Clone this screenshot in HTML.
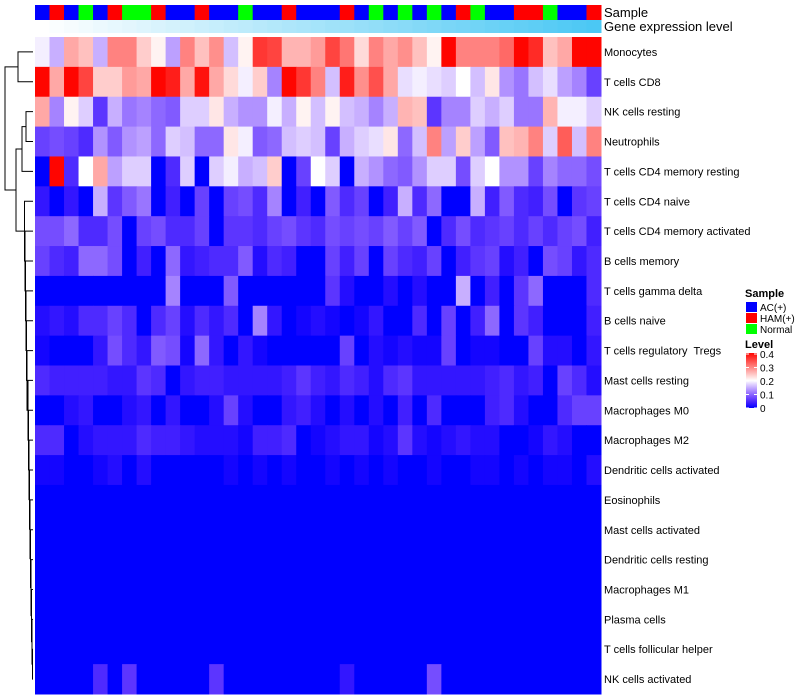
<!DOCTYPE html>
<html><head><meta charset="utf-8"><style>
body{margin:0;background:#fff;font-family:"Liberation Sans",sans-serif}
svg{display:block}
text{white-space:pre}
</style></head><body>
<svg id="chart" width="800" height="700" xmlns="http://www.w3.org/2000/svg"></svg>
<script>
const rowLabels=["Monocytes","T cells CD8","NK cells resting","Neutrophils","T cells CD4 memory resting","T cells CD4 naive","T cells CD4 memory activated","B cells memory","T cells gamma delta","B cells naive","T cells regulatory  Tregs","Mast cells resting","Macrophages M0","Macrophages M2","Dendritic cells activated","Eosinophils","Mast cells activated","Dendritic cells resting","Macrophages M1","Plasma cells","T cells follicular helper","NK cells activated"];
const sampleGroups=["B","R","B","G","B","R","G","G","R","B","B","R","B","B","G","B","B","R","B","B","B","R","B","G","B","G","B","G","B","R","G","B","B","R","R","G","B","B","R"];
const values=[
[0.19,0.15,0.27,0.25,0.15,0.3,0.3,0.24,0.21,0.14,0.3,0.25,0.29,0.16,0.21,0.36,0.35,0.26,0.26,0.28,0.35,0.31,0.23,0.3,0.27,0.29,0.25,0.21,0.4,0.3,0.3,0.3,0.32,0.4,0.37,0.25,0.27,0.4,0.4],
[0.4,0.27,0.4,0.35,0.24,0.24,0.28,0.27,0.4,0.38,0.27,0.39,0.27,0.23,0.19,0.24,0.12,0.4,0.36,0.3,0.16,0.38,0.29,0.34,0.27,0.18,0.19,0.18,0.17,0.2,0.16,0.22,0.13,0.11,0.16,0.18,0.14,0.12,0.07],
[0.27,0.12,0.21,0.17,0.06,0.15,0.11,0.12,0.1,0.09,0.17,0.17,0.22,0.15,0.13,0.13,0.19,0.15,0.21,0.16,0.21,0.16,0.15,0.12,0.15,0.26,0.25,0.06,0.12,0.12,0.17,0.15,0.17,0.11,0.11,0.26,0.19,0.19,0.17],
[0.07,0.08,0.07,0.05,0.13,0.09,0.13,0.14,0.1,0.17,0.16,0.1,0.1,0.22,0.19,0.09,0.1,0.16,0.17,0.16,0.07,0.15,0.17,0.18,0.22,0.1,0.16,0.3,0.14,0.24,0.14,0.09,0.25,0.26,0.3,0.17,0.33,0.16,0.3],
[0,0.4,0.05,0.2,0.27,0.14,0.17,0.17,0,0.05,0.17,0,0.17,0.19,0.15,0.16,0.24,0,0.07,0.2,0.17,0,0.15,0.13,0.1,0.09,0.13,0.17,0.17,0.08,0.17,0.2,0.13,0.13,0.07,0.12,0.1,0.1,0.08],
[0.03,0,0.03,0,0.15,0.06,0.09,0.11,0,0.04,0,0.07,0,0.07,0.08,0.05,0.12,0,0.04,0,0.09,0.05,0.07,0,0.04,0.15,0.05,0.1,0,0,0.15,0.04,0.09,0.05,0.04,0.08,0,0.06,0.07],
[0.08,0.08,0.1,0.05,0.05,0.08,0,0.07,0.08,0.05,0.05,0.07,0,0.06,0.06,0.05,0.07,0.08,0.06,0.05,0.08,0.07,0.08,0.07,0.09,0.07,0.09,0,0.05,0.08,0.05,0.06,0.07,0.05,0.07,0.05,0.07,0.08,0.04],
[0.07,0.05,0.04,0.1,0.1,0.08,0,0.04,0,0.1,0.03,0.04,0.05,0.05,0.09,0.02,0.05,0.04,0,0,0.07,0.04,0.07,0,0.07,0.05,0.04,0.07,0,0.04,0.06,0.07,0.02,0.04,0,0.08,0.07,0.03,0.05],
[0,0,0,0,0,0,0,0,0,0.12,0,0,0,0.09,0,0,0,0,0,0,0.06,0.02,0,0,0.02,0,0.02,0,0,0.15,0,0.04,0,0.06,0.1,0,0,0,0.05],
[0.02,0.03,0.02,0.05,0.05,0.07,0.05,0,0.05,0.07,0.02,0.05,0.03,0.05,0,0.12,0.03,0,0.01,0.02,0.01,0,0.01,0.03,0,0,0.05,0,0.07,0,0.04,0.1,0,0.06,0.04,0,0,0,0.04],
[0.01,0,0,0,0.03,0.08,0.05,0.03,0.09,0.08,0.01,0.1,0.03,0,0.03,0.01,0,0,0,0,0,0.07,0,0.02,0.01,0.02,0.01,0.01,0.07,0,0.01,0.01,0,0,0.07,0.02,0.02,0,0.03],
[0.05,0.04,0.04,0.04,0.04,0.03,0.03,0.06,0.05,0,0.03,0.04,0.04,0.03,0.03,0.03,0.03,0.04,0.06,0.04,0.03,0.05,0.04,0.02,0.05,0.06,0.03,0.03,0.03,0.03,0.03,0.04,0.05,0.03,0.04,0,0.07,0.05,0.02],
[0,0,0.02,0.03,0,0,0.02,0.03,0,0.03,0,0,0.02,0.07,0.02,0,0,0.03,0.04,0.02,0,0.02,0,0.02,0,0.04,0,0.05,0,0,0,0.04,0.05,0.02,0,0,0.05,0.07,0.07],
[0.05,0.05,0,0.02,0.03,0.03,0.03,0.05,0.04,0.04,0.03,0.02,0.02,0.02,0.01,0.04,0.04,0.05,0,0.01,0.02,0.03,0.03,0.01,0.02,0.06,0.02,0.01,0.02,0.03,0.02,0.02,0,0,0.01,0.03,0.02,0,0],
[0.01,0.01,0,0,0.01,0.02,0,0.02,0,0,0,0,0,0.01,0,0.01,0,0.01,0,0,0.01,0,0.01,0,0.01,0,0,0.01,0,0,0.01,0.01,0,0.01,0,0.01,0.01,0,0.02],
[0,0,0,0,0,0,0,0,0,0,0,0,0,0,0,0,0,0,0,0,0,0,0,0,0,0,0,0,0,0,0,0,0,0,0,0,0,0,0],
[0,0,0,0,0,0,0,0,0,0,0,0,0,0,0,0,0,0,0,0,0,0,0,0,0,0,0,0,0,0,0,0,0,0,0,0,0,0,0],
[0,0,0,0,0,0,0,0,0,0,0,0,0,0,0,0,0,0,0,0,0,0,0,0,0,0,0,0,0,0,0,0,0,0,0,0,0,0,0],
[0,0,0,0,0,0,0,0,0,0,0,0,0,0,0,0,0,0,0,0,0,0,0,0,0,0,0,0,0,0,0,0,0,0,0,0,0,0,0],
[0,0,0,0,0,0,0,0,0,0,0,0,0,0,0,0,0,0,0,0,0,0,0,0,0,0,0,0,0,0,0,0,0,0,0,0,0,0,0],
[0,0,0,0,0,0,0,0,0,0,0,0,0,0,0,0,0,0,0,0,0,0,0,0,0,0,0,0,0,0,0,0,0,0,0,0,0,0,0],
[0,0,0,0,0.05,0,0.06,0,0,0,0,0,0.06,0,0,0,0,0,0,0,0,0.03,0,0,0,0,0,0.08,0,0,0,0,0,0,0,0,0,0,0]
];
const levelTicks=[0,0.1,0.2,0.3,0.4];
const sampleNames={B:"AC(+)",R:"HAM(+)",G:"Normal"};
const sampleColors={B:"#0000ff",R:"#ff0000",G:"#00ff00"};

const svg=document.getElementById('chart');
const NS="http://www.w3.org/2000/svg";
const X0=35,X1=601,Y0=37,Y1=694;
const nC=sampleGroups.length,nR=rowLabels.length;
const cw=(X1-X0)/nC,rh=(Y1-Y0)/nR;
const xPos=c=>X0+c*cw, yPos=r=>Y0+r*rh;
function color(v){
  let t=Math.max(0,Math.min(1,v/0.4));
  let r,g,b;
  if(t<0.5){const u=t/0.5;r=255*Math.pow(u,0.85);g=255*Math.pow(u,1.3);b=255;}
  else{const u=(t-0.5)/0.5;r=255;g=255*(1-u*0.98);b=255*(1-u);}
  return `rgb(${Math.round(r)},${Math.round(g)},${Math.round(b)})`;
}
function mk(tag,attrs,parent){const e=document.createElementNS(NS,tag);for(const k in attrs)e.setAttribute(k,attrs[k]);(parent||svg).appendChild(e);return e;}
function txt(x,y,s,size,weight,parent){const t=mk('text',{x:x,y:y,'font-size':size,'font-family':'Liberation Sans, sans-serif','font-weight':weight||'normal',fill:'#000'},parent);t.textContent=s;return t;}

sampleGroups.forEach((s,c)=>{
  const r=mk('rect',{x:xPos(c),y:5,width:cw+0.5,height:15,fill:sampleColors[s]});
  
  
  const u=c/(nC-1);
  const g=mk('rect',{x:xPos(c),y:20,width:cw+0.5,height:13,fill:`rgb(${Math.round(255-u*180)},${Math.round(255-u*55)},${Math.round(255-u*11)})`});
  
  
});
let t=txt(604,17,"Sample",13);


t=txt(604,31,"Gene expression level",13);



values.forEach((row,r)=>row.forEach((v,c)=>{
  const e=mk('rect',{x:xPos(c),y:yPos(r),width:cw+0.5,height:rh+0.5,fill:color(v)});
  
  
}));
rowLabels.forEach((s,r)=>{
  const e=txt(604,yPos(r)+rh/2+4,s,11);
  
  
});

const dg=mk('g',{stroke:'#000','stroke-width':1,fill:'none'});


const cy=r=>yPos(r)+rh/2;
function link(xa,ya,xb,yb,xj){mk('path',{d:`M${xa},${ya}H${xj}V${yb}H${xb}`},dg);return [xj,(ya+yb)/2];}
let A=link(33,cy(0),33,cy(1),18);
let N=link(33,cy(2),33,cy(3),26);
let B=link(N[0],N[1],33,cy(4),22);
let L=[33,cy(21)];
for(let r=20;r>=5;r--){const xj=r>=15?33:(r>=11?31:29-(14-r)*0.5);L=link(33,cy(r),L[0],L[1],Math.min(xj,L[0]-0.5));}
let C=link(B[0],B[1],L[0],L[1],16);
link(A[0],A[1],C[0],C[1],5);

const lg=mk('g',{});


txt(745,297,"Sample",11,'bold',lg);
["B","R","G"].forEach((k,i)=>{
  const r=mk('rect',{x:746,y:302+i*11,width:11,height:10,fill:sampleColors[k]},lg);
  
  
  txt(760,311+i*11,sampleNames[k],10,'normal',lg);
});
txt(745,348,"Level",11,'bold',lg);
const defs=mk('defs',{});
const grad=mk('linearGradient',{id:'lv',x1:0,y1:1,x2:0,y2:0},defs);
for(let i=0;i<=10;i++)mk('stop',{offset:i/10,'stop-color':color(i*0.04)},grad);
mk('rect',{x:746,y:353,width:11,height:55,fill:'url(#lv)'},lg);
levelTicks.forEach(v=>{
  const y=408-(v/0.4)*54;
  mk('line',{x1:746,x2:749,y1:y,y2:y,stroke:'#fff'},lg);
  mk('line',{x1:754,x2:757,y1:y,y2:y,stroke:'#fff'},lg);
  txt(760,y+4,String(v),10,'normal',lg);
});
</script>
</body></html>
